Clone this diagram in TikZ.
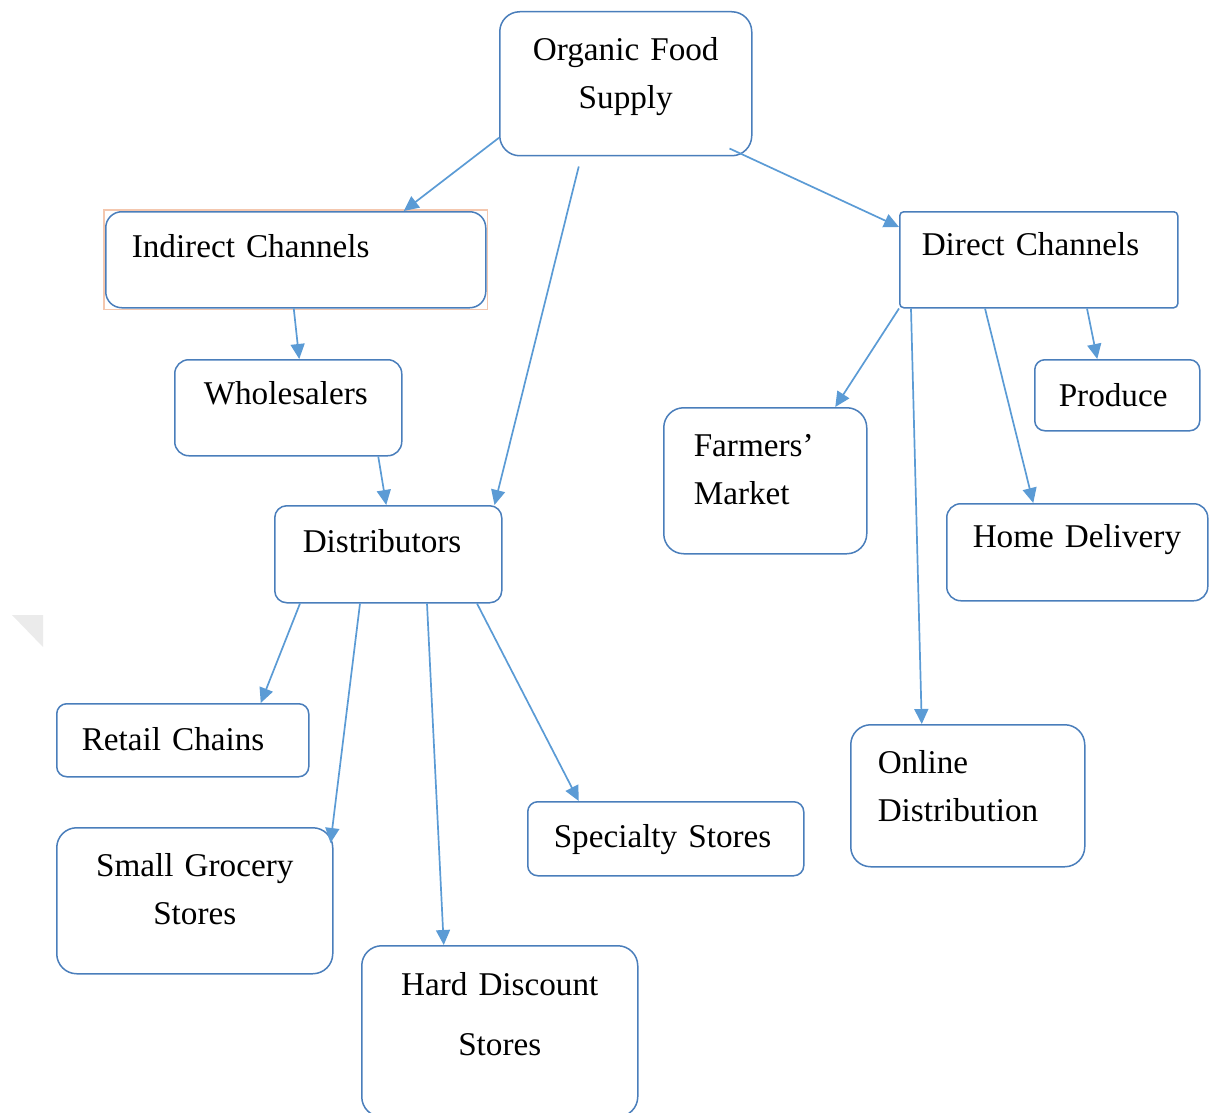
\documentclass[tikz,border=0pt]{standalone}
\usepackage{fontspec}
\setmainfont{Liberation Serif}
\usepackage{xcolor}
\usetikzlibrary{arrows.meta, calc}

\definecolor{boxline}{HTML}{4A7EBB}
\definecolor{arrowblue}{HTML}{5B9BD5}
\definecolor{selframe}{HTML}{F4C7AE}

\begin{document}
\begin{tikzpicture}[
  x=0.5pt, y=-0.5pt,
  cbox/.style={rectangle, draw=boxline, line width=0.75pt, rounded corners=#1,
               font=\fontsize{16.6}{24}\selectfont, align=left,
               inner ysep=0pt, anchor=north west},
  cbox/.default=5pt,
  link/.style={draw=arrowblue, line width=0.85pt,
               -{Triangle[length=7.5pt, width=7pt]}}
]
\useasboundingbox (0,0) rectangle (1216,1113);

% faint mark at the left margin
\fill[black!8] (12,615) -- (43,615) -- (43,647) -- cycle;

% Root
\node[cbox=10pt, align=center, inner xsep=8pt, text width=110pt,
      text height=24.5pt, text depth=47.5pt]
    (org) at (499,11) {Organic Food\\Supply};

% The two channel boxes
\node[cbox=8pt, inner xsep=13pt, text width=164pt,
      text height=23pt, text depth=25pt]
    (ind) at (105,211) {\mbox{Indirect Channels}};
\draw[selframe, line width=0.6pt]
    ($(ind.north west)+(-1,-1)$) rectangle ($(ind.south east)+(1,1)$);

\node[cbox=2pt, inner xsep=11pt, text width=117pt,
      text height=22pt, text depth=26pt]
    (dir) at (899,211) {\mbox{Direct Channels}};

% Indirect side
\node[cbox=7pt, inner xsep=14.5pt, text width=84.5pt,
      text height=22.5pt, text depth=25.5pt]
    (whl) at (174,359) {Wholesalers};
\node[cbox=6pt, inner xsep=14pt, text width=85.5pt,
      text height=23.5pt, text depth=25pt]
    (dis) at (274,505) {Distributors};

\node[cbox=5pt, inner xsep=12.5pt, text width=101pt,
      text height=23.5pt, text depth=13pt]
    (ret) at (56,703) {\mbox{Retail Chains}};
\node[cbox=10pt, align=center, inner xsep=8pt, text width=122pt,
      text height=24.5pt, text depth=48.5pt]
    (sgs) at (56,827) {Small Grocery\\Stores};
\node[cbox=10pt, align=center, inner xsep=8pt, text width=122pt,
      text height=25pt, text depth=60.5pt]
    (hds) at (361,945) {Hard Discount\\[6pt]Stores};
\node[cbox=5pt, inner xsep=13pt, text width=112pt,
      text height=23pt, text depth=14pt]
    (spc) at (527,801) {\mbox{Specialty Stores}};

% Direct side
\node[cbox=5pt, inner xsep=12pt, text width=58.5pt,
      text height=23.5pt, text depth=12pt]
    (pro) at (1034,359) {Produce};
\node[cbox=10pt, inner xsep=15pt, text width=71.5pt,
      text height=24.5pt, text depth=48.5pt]
    (frm) at (663,407) {Farmers’\\Market};
\node[cbox=7pt, inner xsep=13pt, text width=104.5pt,
      text height=22pt, text depth=26.5pt]
    (hom) at (946,503) {\mbox{Home Delivery}};
\node[cbox=10pt, inner xsep=13.5pt, text width=90pt,
      text height=24.5pt, text depth=46.5pt]
    (onl) at (850,724) {Online\\Distribution};

% Arrows from the root
\draw[link] ([yshift=-27pt]org.west) -- ([xshift=54pt]ind.north);
\draw[link] ([xshift=-23.5pt, yshift=-5pt]org.south) -- ([xshift=-4pt]dis.north east);
\draw[link] ([xshift=-11.5pt, yshift=4pt]org.south east) -- ([yshift=-8pt]dir.north west);

% Indirect chain
\draw[link] ([xshift=-1pt]ind.south) -- ([xshift=5.5pt]whl.north);
\draw[link] ([xshift=45pt]whl.south) -- ([xshift=-1pt]dis.north);

% Distributors to outlets
\draw[link] ([xshift=13pt]dis.south west) -- ([xshift=39pt]ret.north);
\draw[link] ([xshift=43pt]dis.south west) -- ([xshift=-1.5pt, yshift=-8pt]sgs.north east);
\draw[link] ([xshift=76.5pt]dis.south west) -- ([xshift=-28pt]hds.north);
\draw[link] ([xshift=101.5pt]dis.south west) -- ([xshift=-43.5pt]spc.north);

% Direct channels to outlets
\draw[link] (dir.south west) -- ([xshift=35pt]frm.north);
\draw[link] ([xshift=6pt]dir.south west) -- ([xshift=-23pt]onl.north);
\draw[link] ([xshift=43pt]dir.south west) -- ([xshift=-22pt]hom.north);
\draw[link] ([xshift=94pt]dir.south west) -- ([xshift=-10pt]pro.north);

\end{tikzpicture}
\end{document}
